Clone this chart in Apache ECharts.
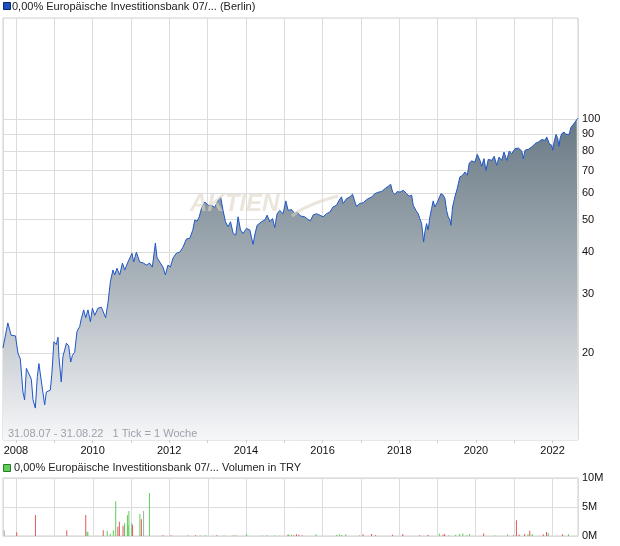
<!DOCTYPE html>
<html><head><meta charset="utf-8">
<script src="https://cdn.jsdelivr.net/npm/echarts@6/dist/echarts.min.js"></script>
<style>html,body{margin:0;padding:0;background:#fff}#c{width:620px;height:546px}</style>
</head><body><div id="c"></div>
<script>
// ---- price series (weekly chart) ----
const priceDates = [
'2007-08-31','2007-10-16','2007-11-17','2007-12-28','2008-01-20','2008-02-12','2008-03-08','2008-03-24','2008-04-10','2008-04-24',
'2008-05-27','2008-06-12','2008-07-04','2008-07-23','2008-08-07','2008-08-30','2008-10-01','2008-10-17','2008-11-24','2008-12-09',
'2008-12-28','2009-01-20','2009-02-05','2009-02-14','2009-03-08','2009-03-24','2009-04-10','2009-04-26','2009-05-18','2009-06-06',
'2009-06-23','2009-07-14','2009-08-05','2009-08-31','2009-09-16','2009-10-08','2009-10-27','2009-11-18','2009-12-11','2009-12-30',
'2010-01-21','2010-02-21','2010-03-25','2010-05-05','2010-05-27','2010-06-19','2010-07-14','2010-07-30','2010-08-21','2010-09-16',
'2010-10-12','2010-11-03','2010-12-04','2011-01-11','2011-01-27','2011-02-22','2011-03-25','2011-05-02','2011-05-28','2011-06-28',
'2011-07-24','2011-08-22','2011-09-06','2011-10-02','2011-11-02','2011-11-25','2011-12-20','2012-01-12','2012-02-06','2012-03-09',
'2012-04-10','2012-05-11','2012-06-13','2012-07-15','2012-08-12','2012-09-01','2012-09-23','2012-10-12','2012-11-03','2012-12-05',
'2013-01-05','2013-02-07','2013-03-10','2013-04-11','2013-05-06','2013-05-28','2013-06-20','2013-07-15','2013-08-07','2013-09-01',
'2013-09-26','2013-10-18','2013-11-10','2013-12-05','2014-01-06','2014-02-07','2014-02-23','2014-03-10','2014-03-26','2014-04-17',
'2014-05-29','2014-06-30','2014-07-22','2014-08-16','2014-09-11','2014-10-03','2014-10-25','2014-11-19','2014-12-21','2015-01-16',
'2015-02-07','2015-03-11','2015-04-11','2015-05-03','2015-06-04','2015-07-15','2015-08-15','2015-09-08','2015-10-02','2015-11-04',
'2015-12-05','2016-01-06','2016-02-08','2016-03-10','2016-04-10','2016-05-13','2016-06-07','2016-06-30','2016-07-15','2016-08-17',
'2016-09-17','2016-10-13','2016-11-04','2016-11-20','2016-12-21','2017-01-22','2017-02-24','2017-04-13','2017-05-14','2017-06-15',
'2017-07-17','2017-08-18','2017-09-18','2017-10-11','2017-10-30','2017-11-21','2017-12-13','2018-01-07','2018-02-08','2018-03-12',
'2018-04-06','2018-04-29','2018-05-14','2018-06-09','2018-06-30','2018-07-16','2018-08-02','2018-08-11','2018-08-21','2018-09-02',
'2018-09-18','2018-10-03','2018-10-20','2018-11-05','2018-11-20','2018-12-06','2018-12-28','2019-01-16','2019-02-02','2019-02-24',
'2019-03-12','2019-03-28','2019-04-12','2019-04-29','2019-05-08','2019-05-24','2019-06-15','2019-07-07','2019-08-02','2019-08-28',
'2019-09-19','2019-10-11','2019-10-30','2019-11-22','2019-12-23','2020-01-14','2020-02-09','2020-02-25','2020-03-18','2020-04-06',
'2020-04-28','2020-05-31','2020-06-24','2020-07-17','2020-08-08','2020-09-03','2020-09-25','2020-10-21','2020-11-14','2020-12-07',
'2021-01-08','2021-02-09','2021-03-13','2021-03-28','2021-04-13','2021-05-15','2021-06-16','2021-07-17','2021-08-18','2021-09-20',
'2021-10-21','2021-11-06','2021-12-01','2021-12-24','2022-01-02','2022-01-15','2022-02-03','2022-02-19','2022-03-03','2022-03-13',
'2022-03-29','2022-04-20','2022-05-09','2022-05-25','2022-06-09','2022-06-23','2022-07-12','2022-08-03','2022-08-19','2022-08-31'
];
const priceValues = [
20.7,24.6,22.6,22.5,20.0,19.2,15.3,14.5,18.0,17.6,
16.7,14.5,13.7,17.0,18.6,16.5,14.0,15.3,15.5,17.4,
21.6,21.2,22.3,19.5,16.4,19.5,19.7,21.4,21.0,18.8,
19.7,20.1,23.2,24.0,25.4,26.9,25.5,26.9,24.8,27.2,
25.9,27.2,27.4,25.5,28.2,32.6,35.4,34.2,35.8,34.2,
37.1,35.4,37.4,39.7,37.4,40.0,37.4,37.1,36.6,37.1,
36.1,42.6,38.6,37.4,36.1,34.2,36.6,36.1,38.4,39.7,
40.0,41.4,43.8,44.0,46.5,49.9,49.5,50.9,54.0,56.5,
55.2,55.2,54.4,57.2,58.2,53.3,49.3,47.6,49.3,45.5,
45.0,51.0,46.6,45.5,47.1,46.6,47.1,42.2,45.0,48.1,
49.3,49.9,51.6,49.3,50.4,47.4,52.1,53.3,52.1,56.9,
53.3,53.6,52.1,52.7,51.3,51.0,50.1,49.6,51.6,52.1,
51.6,51.0,52.1,52.7,54.6,55.2,57.2,58.5,55.9,57.8,
58.5,59.6,56.5,54.8,55.9,56.2,57.4,58.5,59.8,60.4,
60.7,61.9,62.9,63.8,60.4,59.5,60.7,60.4,61.2,59.8,
58.8,59.2,55.2,53.3,52.1,50.4,48.7,46.0,42.9,46.0,
48.7,46.6,51.0,54.0,56.9,54.6,56.2,55.9,59.8,59.2,
57.8,53.3,51.0,49.9,48.1,54.6,58.5,61.9,67.1,67.9,
69.4,67.9,73.8,74.9,74.3,78.4,75.2,72.2,76.1,70.2,
75.7,75.2,77.3,72.7,76.9,75.2,79.6,75.2,80.2,78.7,
81.5,81.8,80.2,76.1,80.6,81.1,82.4,84.3,85.3,86.7,
86.3,88.3,84.3,83.4,80.6,85.3,89.9,87.3,82.8,87.3,
90.3,91.3,89.9,88.7,89.9,94.1,94.5,97.8,99.5,100.5
];
const yTicks = [20, 30, 40, 50, 60, 70, 80, 90, 100];
const yearLabels = [2008, 2010, 2012, 2014, 2016, 2018, 2020, 2022];

// ---- volume series (millions TRY) ----
const volDates = [
'2007-09-07','2008-01-04','2008-07-01','2009-04-26','2009-10-24','2009-11-06','2009-11-13','2010-04-09','2010-05-17','2010-06-15',
'2010-07-14','2010-08-06','2010-08-27','2010-09-10','2010-10-15','2010-10-29','2010-11-26','2010-12-03','2010-12-10','2011-01-07',
'2011-01-14','2011-03-25','2011-04-08','2011-04-29','2011-06-24','2011-10-30','2012-01-15','2012-06-26','2012-09-06','2012-10-22',
'2012-12-05','2013-03-28','2013-06-05','2013-09-01','2013-09-26','2014-01-06','2014-06-05','2014-07-22','2014-10-03','2014-11-19',
'2015-02-06','2015-02-13','2015-03-11','2015-04-03','2015-04-28','2015-05-20','2015-06-20','2015-10-30','2016-05-15','2016-06-10',
'2016-07-02','2016-08-10','2016-12-21','2017-01-22','2017-04-13','2017-05-20','2017-10-30','2018-02-05','2018-07-16','2018-10-03',
'2019-01-20','2019-02-24','2019-03-12','2019-04-20','2019-06-25','2019-08-02','2019-09-01','2019-10-11','2019-11-05','2020-03-18',
'2020-07-05','2020-11-02','2020-12-28','2021-01-25','2021-02-20','2021-04-13','2021-05-15','2021-06-01','2021-06-25','2021-10-08',
'2021-11-08','2021-11-25','2022-04-10','2022-06-06'
];
const volValues = [
1.0,0.65,3.6,1.0,3.6,0.75,0.75,1.0,0.9,0.35,
1.0,6.0,1.6,2.45,1.77,2.2,3.6,1.8,4.3,2.2,
1.9,3.8,2.9,4.3,7.4,0.15,0.15,0.1,0.15,0.1,
0.15,0.15,0.1,0.15,0.1,0.3,0.1,0.15,0.1,0.1,
0.25,0.2,0.2,0.15,0.3,0.2,0.15,0.3,0.2,0.3,
0.15,0.3,0.15,0.3,0.35,0.15,0.2,0.35,0.15,0.2,
0.45,0.2,0.35,0.15,0.2,0.35,0.45,0.15,0.35,0.45,
0.1,0.25,0.15,2.7,0.25,0.35,0.3,0.9,0.35,0.3,
0.7,0.5,0.3,0.3
];
const volDir = [
'flat','down','down','down','down','up','up','down','up','up',
'up','up','down','down','down','up','up','up','up','up',
'down','up','down','flat','up','down','down','down','down','up',
'up','down','up','up','down','up','up','up','up','up',
'down','up','up','down','down','down','down','up','up','up',
'down','up','up','down','down','down','down','down','down','down',
'up','down','down','up','up','up','up','up','up','down',
'up','up','down','down','down','down','up','down','up','down',
'down','up','down','up'
];
const volTicks = [0, 5, 10];

const FONT = '"Liberation Sans", Arial, sans-serif';
const YEAR = 365.25 * 86400000;
const X_MIN = '2007-08-31', X_MAX = '2022-08-31';
const dirColor = { up: '#5fcf5a', down: '#dd5a5a', flat: '#aaaaaa' };

const chart = echarts.init(document.getElementById('c'), null, { renderer: 'canvas' });

const xCommon = (gi, labels) => ({
  type: 'time', gridIndex: gi, min: X_MIN, max: X_MAX,
  minInterval: YEAR, maxInterval: YEAR,
  splitLine: { show: true, lineStyle: { color: '#dcdcdc', width: 1 } },
  axisLine: { show: false },
  axisTick: { show: labels, length: 3, lineStyle: { color: '#d0d0d0' } },
  axisLabel: {
    show: labels, color: '#111', fontSize: 11, fontFamily: FONT, margin: 5,
    showMinLabel: false, showMaxLabel: false, hideOverlap: false,
    formatter: v => { const y = new Date(v).getFullYear(); return yearLabels.includes(y) && new Date(v).getMonth() === 0 ? String(y) : ''; }
  }
});

chart.setOption({
  animation: false,
  backgroundColor: '#fff',
  grid: [
    { left: 3, right: 42, top: 18, height: 422, show: true, borderColor: '#cfcfcf', borderWidth: 1 },
    { left: 3, right: 42, top: 478, height: 58, show: true, borderColor: '#cfcfcf', borderWidth: 1 }
  ],
  xAxis: [xCommon(0, true), xCommon(1, false)],
  yAxis: [
    { type: 'log', logBase: 10, gridIndex: 0, min: 11, max: 200, position: 'right',
      axisLine: { show: false }, axisTick: { show: false }, axisLabel: { show: false }, splitLine: { show: false } },
    { type: 'value', gridIndex: 1, min: volTicks[0], max: volTicks[volTicks.length - 1], interval: 5, position: 'right',
      axisLine: { show: false }, axisTick: { show: false },
      axisLabel: { formatter: '{value}M', color: '#111', fontSize: 11, fontFamily: FONT, margin: 4 },
      splitLine: { lineStyle: { color: '#dcdcdc', width: 1 } } }
  ],
  series: [
    { type: 'line', xAxisIndex: 0, yAxisIndex: 0, data: [], z: 1, silent: true,
      markLine: { silent: true, symbol: 'none', animation: false, z: 1,
        lineStyle: { color: '#dcdcdc', type: 'solid', width: 1 },
        label: { position: 'end', distance: 4, formatter: p => String(p.value), color: '#111', fontSize: 11, fontFamily: FONT },
        emphasis: { disabled: true },
        data: yTicks.map(v => ({ yAxis: v })) } },
    { type: 'line', xAxisIndex: 0, yAxisIndex: 0, z: 3, symbol: 'none', showSymbol: false,
      data: priceDates.map((d, i) => [d, priceValues[i]]),
      lineStyle: { color: '#1f57c9', width: 1 },
      areaStyle: { opacity: 1, color: new echarts.graphic.LinearGradient(0, 0, 0, 1, [
        { offset: 0, color: '#687984' }, { offset: 0.5, color: '#aab3ba' }, { offset: 1, color: '#f6f7f9' }]) } },
    { type: 'bar', xAxisIndex: 1, yAxisIndex: 1, barWidth: 1, z: 3,
      data: volDates.map((d, i) => ({ value: [d, volValues[i]], itemStyle: { color: dirColor[volDir[i]] } })) }
  ],
  graphic: [
    { type: 'rect', left: 3, top: 2, z: 10, shape: { width: 7, height: 7 }, style: { fill: '#1d50c0', stroke: '#0b2a6e', lineWidth: 1 } },
    { type: 'text', left: 12, top: 1, z: 10, style: { text: '0,00% Europäische Investitionsbank 07/... (Berlin)', font: '11px ' + FONT, fill: '#222' } },
    { type: 'rect', left: 3, top: 464, z: 10, shape: { width: 7, height: 7 }, style: { fill: '#5fcf5a', stroke: '#2a7a2a', lineWidth: 1 } },
    { type: 'text', left: 14, top: 462, z: 10, style: { text: '0,00% Europäische Investitionsbank 07/... Volumen in TRY', font: '11px ' + FONT, fill: '#222' } },
    { type: 'text', left: 8, top: 428, z: 10, style: { text: '31.08.07 - 31.08.22   1 Tick = 1 Woche', font: '11px ' + FONT, fill: '#a0a0aa' } },
    { type: 'text', left: 190, top: 192, z: 4, silent: true, style: { text: 'AKTIEN', font: 'italic bold 24px ' + FONT, fill: 'rgba(222,212,196,0.6)' } },
    { type: 'bezierCurve', z: 4, silent: true, shape: { x1: 292, y1: 216, cpx1: 305, cpy1: 205, x2: 338, y2: 196 },
      style: { stroke: 'rgba(222,212,196,0.6)', lineWidth: 3, fill: null } }
  ]
});
</script></body></html>
